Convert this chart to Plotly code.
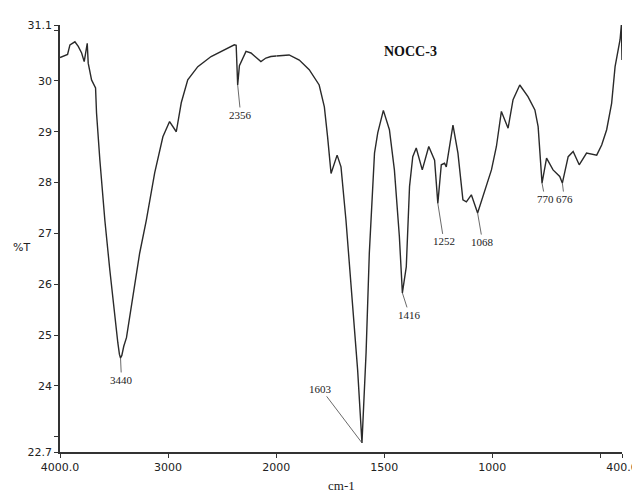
import numpy as np
import plotly.graph_objects as go

# FTIR spectrum of NOCC-3
wavenumber = [4000, 3954, 3930, 3908, 3862, 3831, 3815, 3800, 3776, 3748, 3739, 3708, 3671, 3662,
              3631, 3585, 3539, 3493, 3465, 3450, 3440, 3428, 3410, 3385, 3324, 3263, 3201, 3124,
              3048, 2986, 2924, 2878,
              2818, 2725, 2602, 2479, 2387, 2370, 2356, 2340, 2279, 2233, 2141, 2095, 2049, 2000,
              1940, 1893, 1847, 1801, 1777, 1762, 1746, 1718, 1700, 1677, 1646, 1623, 1603, 1584,
              1569, 1545, 1530, 1504, 1476, 1453, 1430, 1416, 1398, 1383, 1368, 1352, 1324, 1294,
              1267, 1252, 1236, 1221, 1213, 1182, 1159, 1136, 1120, 1097, 1068, 1035, 1004, 981,
              958, 927, 904, 873, 835, 803, 788, 770, 749, 719, 688, 676, 649, 626, 598, 564, 517,
              494, 471, 448, 432, 409, 403, 400]
transmittance = [30.46, 30.50, 30.52, 30.71, 30.77, 30.68, 30.60, 30.55, 30.38, 30.74, 30.35, 30.02,
                 29.86, 29.37, 28.44, 27.26, 26.28, 25.30, 24.85, 24.62, 24.55, 24.60, 24.78, 24.95,
                 25.83, 26.61, 27.26, 28.19,
                 28.90, 29.20, 29.00, 29.57, 30.02, 30.28, 30.48, 30.61, 30.71, 30.70, 29.92, 30.30,
                 30.58, 30.55, 30.38, 30.45, 30.48, 30.49,
                 30.51, 30.41, 30.22, 29.92, 29.49, 28.90, 28.18, 28.54, 28.31, 27.26, 25.63, 24.31,
                 22.88, 24.65, 26.61, 28.58, 28.98, 29.42, 29.04, 28.25, 26.94, 25.83, 26.34, 27.92,
                 28.51, 28.68, 28.25, 28.71, 28.44, 27.59, 28.35, 28.38, 28.31, 29.13, 28.58, 27.66,
                 27.62, 27.76, 27.40, 27.85, 28.25, 28.71, 29.40, 29.07, 29.63, 29.92, 29.69, 29.43,
                 29.10, 27.99, 28.48, 28.25, 28.12, 27.99, 28.51, 28.61, 28.35, 28.58, 28.54, 28.74,
                 29.04, 29.56, 30.28, 30.81, 31.10, 30.41]

peak_labels = ["3440", "2356", "1603", "1416", "1252", "1068", "770", "676"]
peak_positions = [3440, 2356, 1603, 1416, 1252, 1068, 770, 676]
label_offsets = [(1, 22), (3, 30), (-41, -54), (7, 22), (6, 38), (5, 29), (3, 16), (2, 16)]

y_tickvals = [22.7, 23, 24, 25, 26, 27, 28, 29, 30, 31, 31.1]
y_ticktext = ["22.7", "", "24", "25", "26", "27", "28", "29", "30", "", "31.1"]
x1_tickvals = [4000, 3000]
x1_ticktext = ["4000.0", "3000"]
x2_tickvals = [2000, 1500, 1000, 500, 400]
x2_ticktext = ["2000", "1500", "1000", "", "400.0"]

wn = np.array(wavenumber, dtype=float)
tr = np.array(transmittance, dtype=float)
hi = wn >= 2000
lo = wn <= 2000

split = (4000 - 2000) / 1000 / ((4000 - 2000) / 1000 + (2000 - 400) / 500)

line_style = dict(color="#2a2a2a", width=1.4)
fig = go.Figure()
fig.add_trace(go.Scatter(x=wn[hi], y=tr[hi], mode="lines", line=line_style,
                         xaxis="x", yaxis="y", showlegend=False))
fig.add_trace(go.Scatter(x=wn[lo], y=tr[lo], mode="lines", line=line_style,
                         xaxis="x2", yaxis="y", showlegend=False))

order = np.argsort(wn)
for lab, pos, (ax, ay) in zip(peak_labels, peak_positions, label_offsets):
    yv = float(np.interp(pos, wn[order], tr[order]))
    fig.add_annotation(x=pos, y=yv, xref="x" if pos >= 2000 else "x2", yref="y",
                       text=lab, showarrow=True, arrowhead=0, arrowwidth=0.8,
                       arrowcolor="#444444", ax=ax, ay=ay, standoff=0,
                       font=dict(family="Liberation Serif", size=11, color="#222222"))

fig.add_annotation(text="<b>NOCC-3</b>", xref="paper", yref="paper", x=0.623, y=0.937,
                   xanchor="center", yanchor="middle", showarrow=False,
                   font=dict(family="Liberation Serif", size=14, color="#111111"))
fig.add_annotation(text="%T", xref="paper", yref="paper", x=-0.068, y=0.478,
                   xanchor="center", yanchor="middle", showarrow=False,
                   font=dict(family="DejaVu Sans", size=11, color="#222222"))
fig.add_annotation(text="cm-1", xref="paper", yref="paper", x=0.5, y=-0.079,
                   xanchor="center", yanchor="middle", showarrow=False,
                   font=dict(family="Liberation Serif", size=13, color="#222222"))

axis_common = dict(showgrid=False, zeroline=False, showline=True, linecolor="#333333",
                   linewidth=1.5, ticks="outside", ticklen=4, tickcolor="#333333",
                   automargin=False,
                   tickfont=dict(family="DejaVu Sans", size=11, color="#222222"))
# page body has an 8px default margin, so the figure is sized to fit the 640x493 window
fig.update_layout(
    width=632, height=485,
    margin=dict(l=52, r=18, t=17, b=41),
    paper_bgcolor="white", plot_bgcolor="white",
    xaxis=dict(domain=[0, split], range=[4000, 2000], tickvals=x1_tickvals,
               ticktext=x1_ticktext, anchor="y", **axis_common),
    xaxis2=dict(domain=[split, 1], range=[2000, 400], tickvals=x2_tickvals,
                ticktext=x2_ticktext, anchor="y", **axis_common),
    yaxis=dict(range=[22.7, 31.1], tickvals=y_tickvals, ticktext=y_ticktext,
               anchor="x", **axis_common),
)
fig.write_html("out.html")
